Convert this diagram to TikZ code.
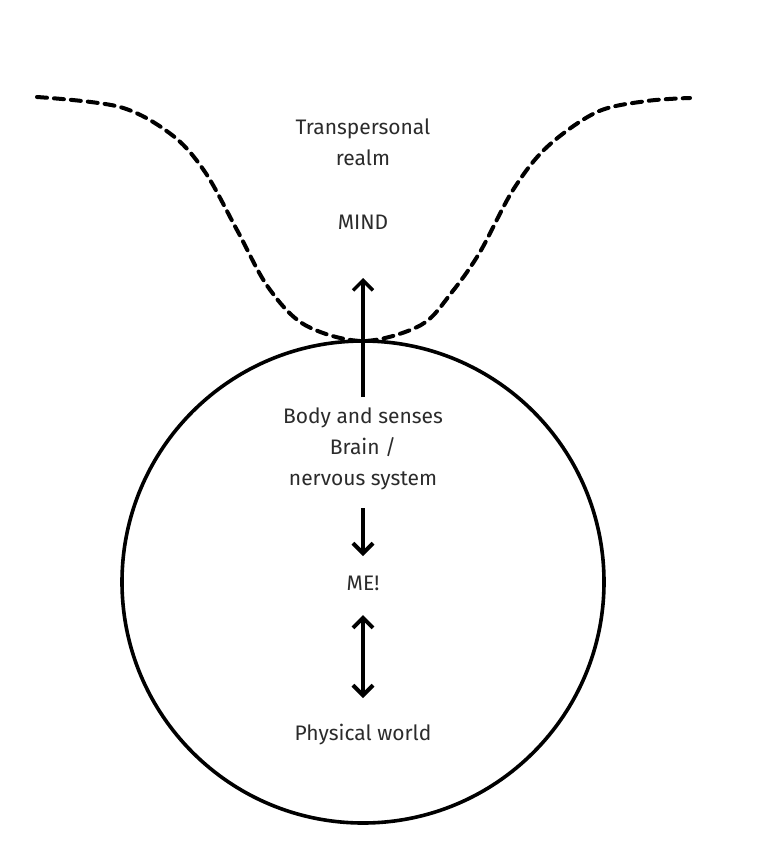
\documentclass[tikz,border=0pt]{standalone}
\usepackage{fontspec}
\setmainfont{Fira Sans}
\usetikzlibrary{arrows.meta}
\definecolor{ink}{HTML}{2B2B2B}
\begin{document}
\begin{tikzpicture}[x=1pt,y=-1pt,
  label text/.style={font=\fontsize{21}{31}\selectfont, text=ink, align=center, inner sep=0pt},
  rim/.style={line width=3.6pt, line cap=round},
  boundary/.style={line width=4pt, dash pattern=on 10pt off 7pt, line cap=round},
  barb/.style={Straight Barb[length=10pt,width=20pt,line width=3.6pt]},
  link/.style={line width=3.4pt, -{Straight Barb[length=10pt,width=20pt,line width=3.4pt]}},
  boldlink/.style={line width=4.4pt, -{Straight Barb[length=10pt,width=20pt,line width=4pt]}},
  bothlink/.style={line width=4pt, {Straight Barb[length=10pt,width=20pt,line width=4pt]}-{Straight Barb[length=10pt,width=20pt,line width=4pt]}}
]
\useasboundingbox (0,0) rectangle (764,854);
\fill[white] (0,0) rectangle (764,854);

% the physical sphere
\draw[rim] (363,582) circle[radius=241];

% the dashed edge of the transpersonal realm
\draw[boundary] plot[smooth, tension=0.55] coordinates {
  (37,97) (120,107) (172,135) (205,172) (237,230) (268,287)
  (305,325) (363,341) (421,325) (452,292) (480,252)
  (513,190) (547,147) (597,112) (647,101) (690,98)};

% labels
\node[label text] (realm) at (363,142) {Transpersonal\\realm};
\node[label text] (mind) at (363,222) {MIND};
\node[label text] (body) at (363,449) {Body and senses\\Brain /\\nervous system};
\node[label text] (me) at (363,583) {ME!};
\node[label text] (world) at (363,735) {Physical world};

% arrow end points
\coordinate (upFrom) at (363,397);
\coordinate (upTo) at (363,278);
\coordinate (downFrom) at (363,508);
\coordinate (downTo) at (363,556);
\coordinate (pairTop) at (363,615);
\coordinate (pairBottom) at (363,698);

\draw[link] (upFrom) -- (upTo);
\draw[boldlink] (downFrom) -- (downTo);
\draw[bothlink] (pairTop) -- (pairBottom);
\end{tikzpicture}
\end{document}
